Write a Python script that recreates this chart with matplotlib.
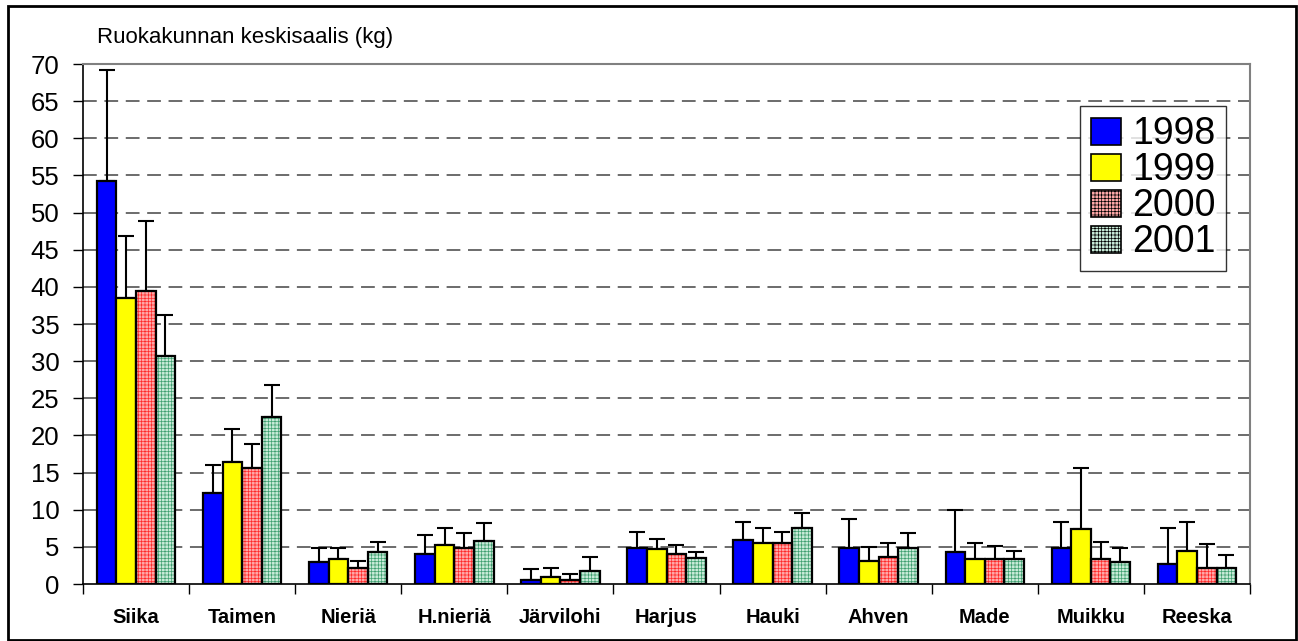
import numpy as np
import matplotlib.pyplot as plt
from matplotlib.patches import Patch, Rectangle

plt.rcParams['font.family'] = ['Liberation Sans', 'DejaVu Sans']
plt.rcParams['hatch.linewidth'] = 0.5

categories = ['Siika', 'Taimen', 'Nieriä', 'H.nieriä', 'Järvilohi', 'Harjus',
              'Hauki', 'Ahven', 'Made', 'Muikku', 'Reeska']
years = ['1998', '1999', '2000', '2001']

# mean catch per household (kg)
v1998 = [54.3, 12.3, 2.9, 4.1, 0.5, 4.9, 5.9, 4.9, 4.3, 4.8, 2.7]
v1999 = [38.5, 16.4, 3.3, 5.2, 1.0, 4.7, 5.5, 3.1, 3.3, 7.4, 4.4]
v2000 = [39.5, 15.6, 2.2, 4.9, 0.5, 4.1, 5.5, 3.6, 3.3, 3.3, 2.2]
v2001 = [30.7, 22.5, 4.3, 5.8, 1.8, 3.5, 7.5, 4.8, 3.3, 2.9, 2.2]

# upper ends of the error bars
top1998 = [69.2, 16.0, 4.9, 6.6, 2.0, 7.0, 8.4, 8.7, 10.0, 8.4, 7.6]
top1999 = [46.8, 20.9, 4.9, 7.5, 2.2, 6.0, 7.6, 5.0, 5.5, 15.6, 8.4]
top2000 = [48.8, 18.9, 3.1, 6.8, 1.4, 5.3, 7.0, 5.5, 5.1, 5.7, 5.4]
top2001 = [36.2, 26.8, 5.7, 8.2, 3.7, 4.3, 9.6, 6.8, 4.5, 4.9, 3.9]

values = [v1998, v1999, v2000, v2001]
tops = [top1998, top1999, top2000, top2001]

# (facecolor, hatch, hatch colour)
styles = [('#0000ff', None, None),
          ('#ffff00', None, None),
          ('#ffa8a8', '+++++', '#ff2a2a'),
          ('#c8ebd8', '+++++', '#3f9f70')]

fig = plt.figure(figsize=(12.98, 6.41), dpi=100)
ax = fig.add_axes([83 / 1298, 57 / 641, 1167 / 1298, 520 / 641])

x = np.arange(len(categories))
w = 0.185
for i, (vals, tp) in enumerate(zip(values, tops)):
    pos = x + (i - 1.5) * w
    fc, hatch, hc = styles[i]
    vals = np.array(vals)
    err = np.array(tp) - vals
    if hatch:
        ax.bar(pos, vals, w, color=fc, hatch=hatch, edgecolor=hc, linewidth=0, zorder=2)
        ax.bar(pos, vals, w, fill=False, edgecolor='black', linewidth=1.6, zorder=3)
    else:
        ax.bar(pos, vals, w, color=fc, edgecolor='black', linewidth=1.6, zorder=3)
    ax.errorbar(pos, vals, yerr=[np.zeros_like(err), err], fmt='none',
                ecolor='black', elinewidth=1.5, capsize=6, capthick=1.5, zorder=1)

ax.set_xlim(-0.5, len(categories) - 0.5)
ax.set_ylim(0, 70)
ax.set_yticks(np.arange(0, 71, 5))
ax.tick_params(axis='y', labelsize=18.5, length=7, width=1, direction='out', pad=10)
ax.set_xticks(x)
ax.set_xticklabels(categories, fontsize=14.5, fontweight='bold')
ax.tick_params(axis='x', length=0, pad=17)
ax.set_xticks(np.arange(-0.5, len(categories)), minor=True)
ax.tick_params(axis='x', which='minor', length=7, width=1, direction='out')

for y in range(5, 70, 5):
    ax.axhline(y, color='#444444', linewidth=1.1, dashes=(9, 5), zorder=0)

ax.spines['left'].set_color('black')
ax.spines['bottom'].set_color('black')
ax.spines['left'].set_linewidth(1.2)
ax.spines['bottom'].set_linewidth(1.2)
ax.spines['top'].set_color('#808080')
ax.spines['right'].set_color('#808080')
ax.spines['top'].set_linewidth(1.5)
ax.spines['right'].set_linewidth(1.5)

handles = []
for fc, hatch, hc in styles:
    if hatch:
        handles.append(Patch(facecolor=fc, hatch=hatch, edgecolor='black', linewidth=1.2))
    else:
        handles.append(Patch(facecolor=fc, edgecolor='black', linewidth=1.2))
leg = ax.legend(handles, years, fontsize=27, loc='upper left',
                bbox_to_anchor=((1080 - 83) / 1167, (584 - 106) / 520),
                frameon=True, fancybox=False, borderpad=0.28, labelspacing=0.0,
                handlelength=0.8, handleheight=0.75, handletextpad=0.3,
                borderaxespad=0)
leg.get_frame().set_edgecolor('black')
leg.get_frame().set_linewidth(1.0)

fig.text(97 / 1298, 1 - 43 / 641, 'Ruokakunnan keskisaalis (kg)', fontsize=16,
         ha='left', va='baseline')

fig.patches.append(Rectangle((8 / 1298, 1 / 641), 1288 / 1298, 634 / 641,
                             transform=fig.transFigure, fill=False,
                             edgecolor='black', linewidth=2))

fig.savefig('out.png', dpi=100)
